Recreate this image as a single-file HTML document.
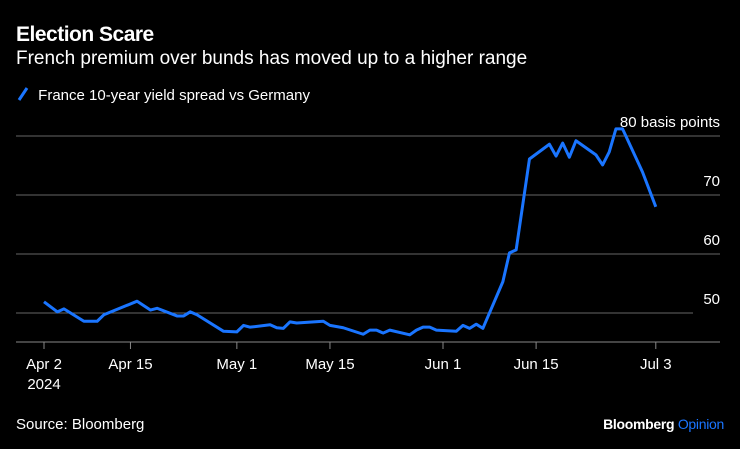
<!DOCTYPE html>
<html><head><meta charset="utf-8"><style>
body{margin:0;background:#000;width:740px;height:449px;overflow:hidden;font-family:"Liberation Sans",sans-serif;color:#fff}
.t{position:absolute;white-space:nowrap}
</style></head><body>
<div class="t" style="left:16px;top:23px;font-size:21px;font-weight:bold;letter-spacing:-0.5px">Election Scare</div>
<div class="t" style="left:16px;top:48px;font-size:19px">French premium over bunds has moved up to a higher range</div>
<div class="t" style="left:16px;top:86px;font-size:15px"><svg width="18" height="16" style="vertical-align:-2px"><line x1="3" y1="14" x2="11" y2="2" stroke="#1a75ff" stroke-width="3"/></svg> France 10-year yield spread vs Germany</div>
<svg id="c" width="740" height="449" style="position:absolute;left:0;top:0"></svg>
<div class="t" style="left:16px;top:416px;font-size:15px">Source: Bloomberg</div>
<div class="t" style="right:16px;top:416px;font-size:14px;font-weight:bold;letter-spacing:-0.3px">Bloomberg <span style="color:#1a75ff;font-weight:normal">Opinion</span></div>
<script>
const days=[0,2,3,6,8,9,14,16,17,20,21,22,23,27,29,30,31,34,35,36,37,38,42,43,45,48,49,50,51,52,55,56,57,58,59,62,63,64,65,66,69,70,71,73,76,77,78,79,80,83,84,85,86,87,90,92];
const values=[51.9,50.2,50.7,48.6,48.6,49.7,52.0,50.5,50.8,49.5,49.5,50.2,49.7,46.9,46.8,47.9,47.6,48.0,47.5,47.4,48.5,48.3,48.6,47.9,47.5,46.4,47.1,47.1,46.6,47.1,46.3,47.1,47.6,47.6,47.1,46.9,47.9,47.4,48.1,47.4,55.3,60.2,60.7,76.1,78.6,76.6,78.8,76.4,79.2,76.8,75.1,77.3,81.2,81.2,73.9,68.0];
const yTicks=[50,60,70,80];
const yTickLabels=["50","60","70","80 basis points"];
const xTickDays=[0,13,29,43,60,74,92];
const xTickLabels=["Apr 2","Apr 15","May 1","May 15","Jun 1","Jun 15","Jul 3"];
const svg=document.getElementById('c');const NS='http://www.w3.org/2000/svg';
const X=d=>44+d*6.65, Y=v=>313-(v-50)*5.9;
function mk(t,a){const e=document.createElementNS(NS,t);for(const k in a)e.setAttribute(k,a[k]);svg.appendChild(e);return e;}
yTicks.forEach((v,i)=>{
 const g=mk('line',{x1:16,x2:v===50?693:720,y1:Y(v),y2:Y(v),stroke:'#666','stroke-width':1});
 
 
 const t=mk('text',{x:720,y:Y(v)-9,'text-anchor':'end',fill:'#fff','font-size':15,'font-family':'Liberation Sans, sans-serif'});
 t.textContent=yTickLabels[i];
 
 
});
const ax=mk('line',{x1:16,x2:720,y1:342,y2:342,stroke:'#888','stroke-width':1});


xTickDays.forEach((d,i)=>{
 const l=mk('line',{x1:X(d),x2:X(d),y1:342,y2:349,stroke:'#888'});
 
 
 const t=mk('text',{x:X(d),y:369,'text-anchor':'middle',fill:'#fff','font-size':15,'font-family':'Liberation Sans, sans-serif'});
 t.textContent=xTickLabels[i];
 
 
});
const yr=mk('text',{x:X(0),y:389,'text-anchor':'middle',fill:'#fff','font-size':15,'font-family':'Liberation Sans, sans-serif'});
yr.textContent='2024';


const p=mk('polyline',{points:days.map((d,i)=>X(d)+','+Y(values[i])).join(' '),fill:'none',stroke:'#1a75ff','stroke-width':3,'stroke-linejoin':'round'});


</script>
</body></html>
